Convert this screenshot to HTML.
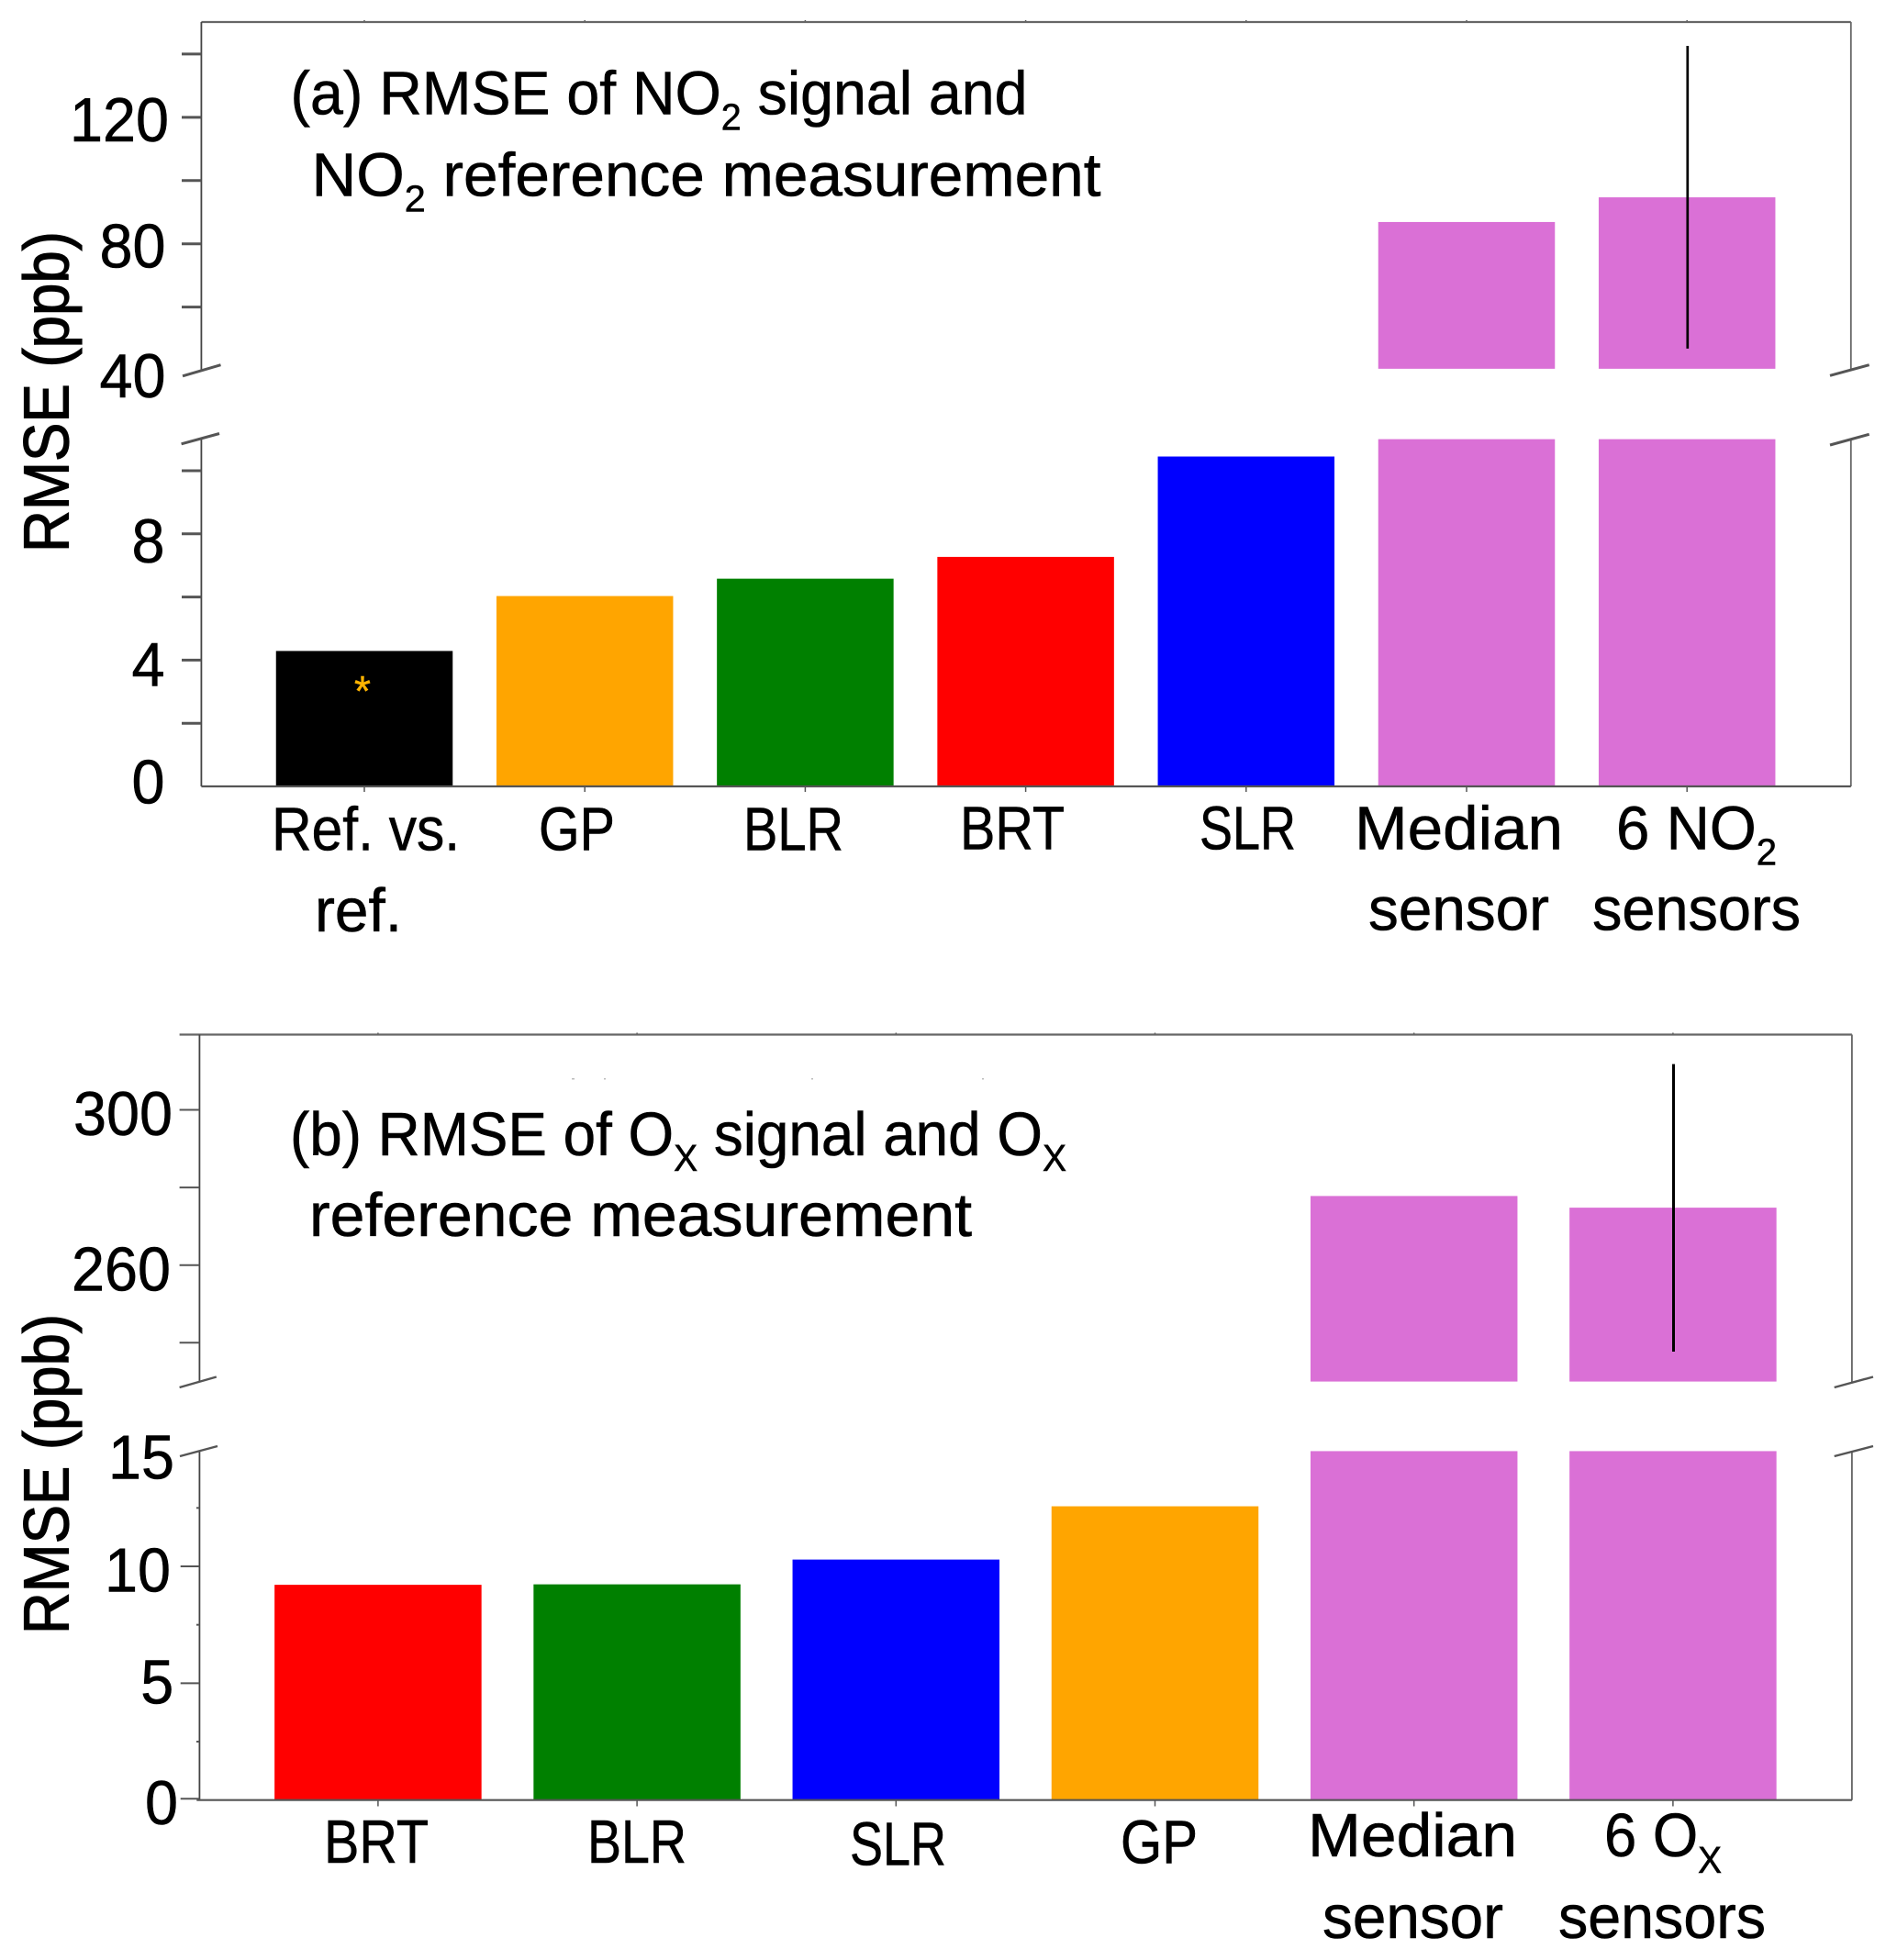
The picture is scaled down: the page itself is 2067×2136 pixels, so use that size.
<!DOCTYPE html>
<html lang="en">
<head>
<meta charset="utf-8">
<title>RMSE of NO2 and Ox signals</title>
<style>
html,body{margin:0;padding:0;background:#fff;}
svg{display:block;}
text{font-family:"Liberation Sans",sans-serif;fill:#000;stroke:#000;stroke-width:.6px;}
</style>
</head>
<body>
<svg id="chart" xmlns="http://www.w3.org/2000/svg" width="2067" height="2136" viewBox="0 0 2067 2136">
  <rect x="0" y="0" width="2067" height="2136" fill="#fff"/>
  <g id="panel-a"></g>
  <g id="panel-b"></g>

  <g font-size="67">
    <text x="316.5" y="124.7" textLength="803" lengthAdjust="spacingAndGlyphs">(a) RMSE of NO<tspan font-size="41" dy="17">2</tspan><tspan dy="-17"> signal and</tspan></text>
    <text x="339.5" y="213.5" textLength="860" lengthAdjust="spacingAndGlyphs">NO<tspan font-size="41" dy="17">2</tspan><tspan dy="-17"> reference measurement</tspan></text>
    <text transform="translate(74.4 602) rotate(-90)" font-size="70" textLength="350" lengthAdjust="spacingAndGlyphs" style="stroke-width:1.2px">RMSE (ppb)</text>
    <text x="296" y="926.7" textLength="205" lengthAdjust="spacingAndGlyphs">Ref. vs.</text>
    <text x="343" y="1015.2" textLength="95" lengthAdjust="spacingAndGlyphs">ref.</text>
    <text x="587" y="926.7" textLength="83" lengthAdjust="spacingAndGlyphs">GP</text>
    <text x="810" y="926.7" textLength="109" lengthAdjust="spacingAndGlyphs">BLR</text>
    <text x="1046" y="925.7" textLength="114" lengthAdjust="spacingAndGlyphs">BRT</text>
    <text x="1307" y="925.7" textLength="105" lengthAdjust="spacingAndGlyphs">SLR</text>
    <text x="1476" y="925.7" textLength="227" lengthAdjust="spacingAndGlyphs">Median</text>
    <text x="1491" y="1013.5" textLength="197" lengthAdjust="spacingAndGlyphs">sensor</text>
    <text x="1761" y="925.7" textLength="175" lengthAdjust="spacingAndGlyphs">6 NO<tspan font-size="41" dy="17">2</tspan></text>
    <text x="1735" y="1013.5" textLength="227" lengthAdjust="spacingAndGlyphs">sensors</text>
  </g>

  <g font-size="67">
    <text x="316" y="1259" textLength="846" lengthAdjust="spacingAndGlyphs">(b) RMSE of O<tspan font-size="41" dy="17">X</tspan><tspan dy="-17"> signal and O</tspan><tspan font-size="41" dy="17">X</tspan></text>
    <text x="337" y="1347" textLength="722" lengthAdjust="spacingAndGlyphs">reference measurement</text>
    <text transform="translate(74.4 1781) rotate(-90)" font-size="70" textLength="349" lengthAdjust="spacingAndGlyphs" style="stroke-width:1.2px">RMSE (ppb)</text>
    <text x="353" y="2030" textLength="114" lengthAdjust="spacingAndGlyphs">BRT</text>
    <text x="640" y="2030" textLength="108" lengthAdjust="spacingAndGlyphs">BLR</text>
    <text x="926" y="2032.5" textLength="105" lengthAdjust="spacingAndGlyphs">SLR</text>
    <text x="1221" y="2030.4" textLength="84" lengthAdjust="spacingAndGlyphs">GP</text>
    <text x="1425" y="2023" textLength="228" lengthAdjust="spacingAndGlyphs">Median</text>
    <text x="1441" y="2111.8" textLength="197" lengthAdjust="spacingAndGlyphs">sensor</text>
    <text x="1748" y="2023" textLength="128" lengthAdjust="spacingAndGlyphs">6 O<tspan font-size="41" dy="18">X</tspan></text>
    <text x="1698" y="2111.8" textLength="226" lengthAdjust="spacingAndGlyphs">sensors</text>
  </g>

  <text x="395" y="769" font-size="46" text-anchor="middle" style="fill:#ffb400;stroke:#ffb400;stroke-width:.5px">*</text>

  <g fill="#bbb">
    <rect x="623" y="1175" width="3" height="1.5"/>
    <rect x="658" y="1175" width="2" height="1.5"/>
    <rect x="884" y="1175" width="2" height="1.5"/>
    <rect x="1070" y="1175" width="2" height="1.5"/>
  </g>
</svg>

<script>
// Panel (a) data: RMSE of NO2 signal and NO2 reference measurement
const aCategories = ['ref-vs-ref', 'gp', 'blr', 'brt', 'slr', 'median-sensor', '6-no2-sensors'];
const aValues = [4.29, 6.03, 6.58, 7.27, 10.45, 86.9, 94.7];
const aColors = ['#000000', '#ffa500', '#008000', '#ff0000', '#0000ff', '#da70d6', '#da70d6'];
const aErrorLow = [null, null, null, null, null, null, 46.9];
const aErrorHigh = [null, null, null, null, null, null, 142.6];
const aLowerTicks = [2, 4, 6, 8, 10];
const aLowerTickLabels = [0, 4, 8];
const aUpperTicks = [60, 80, 100, 120, 140];
const aUpperTickLabels = [40, 80, 120];

// Panel (b) data: RMSE of Ox signal and Ox reference measurement
const bCategories = ['brt', 'blr', 'slr', 'gp', 'median-sensor', '6-ox-sensors'];
const bValues = [9.21, 9.23, 10.29, 12.57, 277.8, 274.8];
const bColors = ['#ff0000', '#008000', '#0000ff', '#ffa500', '#da70d6', '#da70d6'];
const bErrorLow = [null, null, null, null, null, 237.7];
const bErrorHigh = [null, null, null, null, null, 311.8];
const bLowerMajorTicks = [0, 5, 10];
const bLowerMinorTicks = [2.5, 7.5, 12.5];
const bLowerTickLabels = [0, 5, 10, 15];
const bUpperTicks = [240, 260, 280, 300];
const bUpperTickLabels = [260, 300];

const SVG_NS = 'http://www.w3.org/2000/svg';
const AXIS_COLOR = '#555';

function shape(parent, tag, attrs, content) {
  const el = document.createElementNS(SVG_NS, tag);
  for (const key in attrs) el.setAttribute(key, attrs[key]);
  if (content !== undefined) el.textContent = content;
  parent.appendChild(el);
  return el;
}

function line(parent, x1, y1, x2, y2, width, name, color) {
  const el = shape(parent, 'line', {x1: x1, y1: y1, x2: x2, y2: y2, stroke: color || AXIS_COLOR, 'stroke-width': width});
  
  
  return el;
}

function tickLabel(parent, value, right, baseline, name) {
  const text = String(value);
  const width = text.length * 36;
  const el = shape(parent, 'text', {x: right - width, y: baseline, 'font-size': 68, textLength: width, lengthAdjust: 'spacingAndGlyphs'}, text);
  
  
  return el;
}

// Draw one bar across a broken axis: always the lower part, plus the upper part when it exceeds the lower range.
function brokenBar(parent, cx, width, value, color, name, axis) {
  const lowerTop = axis.lowerY(Math.min(value, axis.lowerMax));
  const lower = shape(parent, 'rect', {x: cx - width / 2, y: lowerTop, width: width, height: axis.lowerY(0) - lowerTop, fill: color});
  
  
  if (value > axis.lowerMax) {
    const upperTop = axis.upperY(value);
    const upper = shape(parent, 'rect', {x: cx - width / 2, y: upperTop, width: width, height: axis.upperY(axis.upperMin) - upperTop, fill: color});
    
    
  }
}

function errorBar(parent, cx, low, high, width, name, axis) {
  if (low === null || high === null) return;
  line(parent, cx + 0.6, axis.upperY(high), cx + 0.6, axis.upperY(low), width, 'error-bar-' + name, '#000');
}

/* ---------- Panel (a) ---------- */
const panelA = document.getElementById('panel-a');
const aAxis = {
  x: function (i) { return 397 + 240.2 * i; },
  lowerY: function (v) { return 857 - v * 34.4; },
  upperY: function (v) { return 403.6 - (v - 40) * 3.447; },
  lowerMax: 11.0,
  upperMin: 40.5
};
aCategories.forEach(function (cat, i) {
  brokenBar(panelA, aAxis.x(i), 192.5, aValues[i], aColors[i], cat, aAxis);
  errorBar(panelA, aAxis.x(i), aErrorLow[i], aErrorHigh[i], 2.7, cat, aAxis);
  line(panelA, aAxis.x(i), 857, aAxis.x(i), 863, 1.5, 'x-tick-' + cat);
  line(panelA, aAxis.x(i), 22, aAxis.x(i), 24, 1.5, 'top-tick-' + cat);
});
line(panelA, 219.4, 24, 2016.8, 24, 2.2, 'panel-a-top-axis', '#666');
line(panelA, 219.4, 24, 219.4, 403, 1.8, 'panel-a-left-axis-upper', '#444');
line(panelA, 219.4, 478, 219.4, 857, 1.8, 'panel-a-left-axis-lower', '#444');
line(panelA, 2016.8, 24, 2016.8, 403, 1.8, 'panel-a-right-axis-upper', '#666');
line(panelA, 2016.8, 478, 2016.8, 857, 1.8, 'panel-a-right-axis-lower', '#666');
line(panelA, 219.4, 857, 2016.8, 857, 2.2, 'panel-a-bottom-axis');
aLowerTicks.forEach(function (v) {
  line(panelA, 198, aAxis.lowerY(v), 219.4, aAxis.lowerY(v), 3, 'y-tick-a-lower-' + v);
});
aUpperTicks.forEach(function (v) {
  line(panelA, 198, aAxis.upperY(v), 219.4, aAxis.upperY(v), 3, 'y-tick-a-upper-' + v);
});
const aLowerLabelRight = [179.5, 179.5, 179.5];
const aLowerLabelDrop = [18.7, 27.9, 31.2];
aLowerTickLabels.forEach(function (v, i) {
  tickLabel(panelA, v, aLowerLabelRight[i], aAxis.lowerY(v) + aLowerLabelDrop[i], 'y-tick-label-a-' + v);
});
const aUpperLabelRight = [180.5, 180.5, 184];
const aUpperLabelDrop = [29.3, 26, 26.2];
aUpperTickLabels.forEach(function (v, i) {
  tickLabel(panelA, v, aUpperLabelRight[i], aAxis.upperY(v) + aUpperLabelDrop[i], 'y-tick-label-a-' + v);
});
line(panelA, 199, 409.8, 240.5, 397.7, 3, 'axis-break-a-left-upper');
line(panelA, 197.6, 483.8, 239, 472.5, 3, 'axis-break-a-left-lower');
line(panelA, 1994, 409.3, 2036.7, 397.7, 3, 'axis-break-a-right-upper');
line(panelA, 1994, 485, 2036.7, 473.3, 3, 'axis-break-a-right-lower');

/* ---------- Panel (b) ---------- */
const panelB = document.getElementById('panel-b');
const bAxis = {
  x: function (i) { return 411.9 + 282.2 * i; },
  lowerY: function (v) { return 1961.7 - v * 25.47; },
  upperY: function (v) { return 1209.5 - (v - 300) * 4.23; },
  lowerMax: 14.93,
  upperMin: 230
};
bCategories.forEach(function (cat, i) {
  brokenBar(panelB, bAxis.x(i), 225.5, bValues[i], bColors[i], cat, bAxis);
  errorBar(panelB, bAxis.x(i), bErrorLow[i], bErrorHigh[i], 3, cat, bAxis);
  line(panelB, bAxis.x(i), 1961.7, bAxis.x(i), 1968.5, 1.5, 'x-tick-' + cat);
  line(panelB, bAxis.x(i), 1125.5, bAxis.x(i), 1127.5, 1.5, 'top-tick-' + cat);
});
line(panelB, 195.6, 1127.5, 2017.9, 1127.5, 2.2, 'panel-b-top-axis', '#666');
line(panelB, 217.4, 1127.5, 217.4, 1506, 1.8, 'panel-b-left-axis-upper', '#444');
line(panelB, 217.4, 1581, 217.4, 1961.7, 1.8, 'panel-b-left-axis-lower', '#444');
line(panelB, 2017.9, 1127.5, 2017.9, 1506, 1.8, 'panel-b-right-axis-upper', '#666');
line(panelB, 2017.9, 1581, 2017.9, 1961.7, 1.8, 'panel-b-right-axis-lower', '#666');
line(panelB, 214.3, 1961.7, 2017.9, 1961.7, 2.2, 'panel-b-bottom-axis');
bLowerMajorTicks.forEach(function (v) {
  line(panelB, 196.7, bAxis.lowerY(v) - (v === 0 ? 1.4 : 0), 217.4, bAxis.lowerY(v) - (v === 0 ? 1.4 : 0), 2, 'y-tick-b-lower-' + v);
});
bLowerMinorTicks.forEach(function (v) {
  line(panelB, 214, bAxis.lowerY(v), 217.4, bAxis.lowerY(v), 2, 'y-minor-tick-b-lower-' + v);
});
bUpperTicks.forEach(function (v) {
  line(panelB, 195.6, bAxis.upperY(v), 217.4, bAxis.upperY(v), 2, 'y-tick-b-upper-' + v);
});
const bLowerLabelRight = [194, 189.2, 186, 190];
const bLowerLabelDrop = [26.3, 22, 27.4, 31.7];
bLowerTickLabels.forEach(function (v, i) {
  tickLabel(panelB, v, bLowerLabelRight[i], bAxis.lowerY(v) + bLowerLabelDrop[i], 'y-tick-label-b-' + v);
});
const bUpperLabelRight = [186, 188];
const bUpperLabelDrop = [27.8, 27.5];
bUpperTickLabels.forEach(function (v, i) {
  tickLabel(panelB, v, bUpperLabelRight[i], bAxis.upperY(v) + bUpperLabelDrop[i], 'y-tick-label-b-' + v);
});
line(panelB, 195.6, 1512, 235.8, 1500.5, 2.4, 'axis-break-b-left-upper');
line(panelB, 196, 1587, 237, 1576, 2.4, 'axis-break-b-left-lower');
line(panelB, 1998.7, 1512, 2041, 1500.5, 2.4, 'axis-break-b-right-upper');
line(panelB, 1998.7, 1587, 2041, 1576, 2.4, 'axis-break-b-right-lower');
</script>
</body>
</html>
